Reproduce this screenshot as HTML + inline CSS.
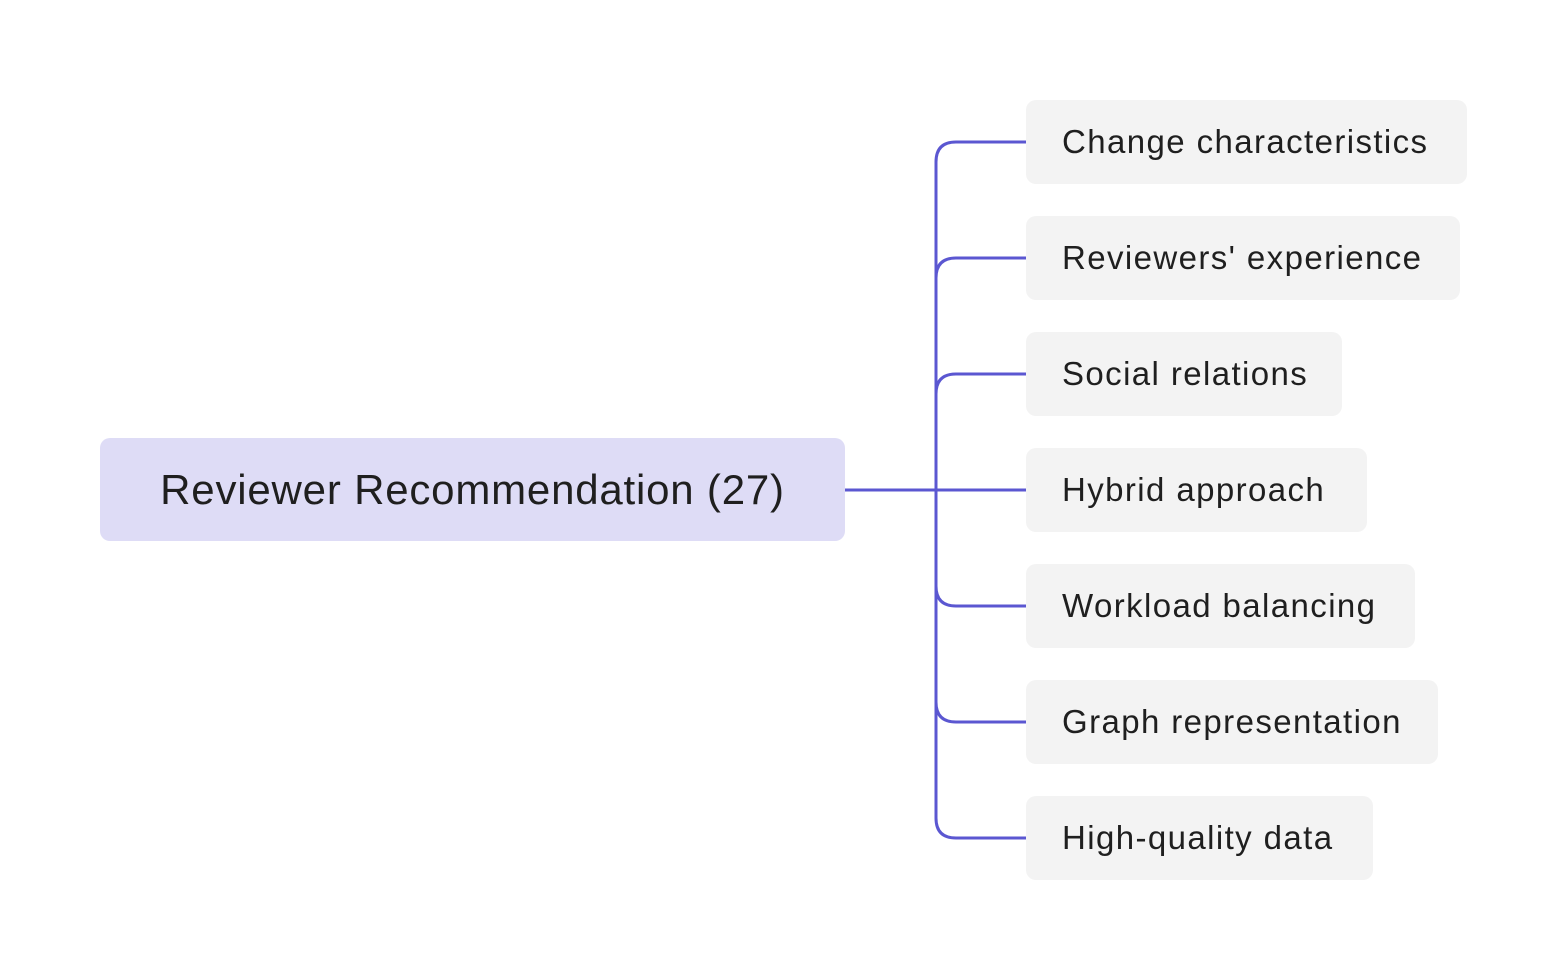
<!DOCTYPE html>
<html><head><style>
body{margin:0;width:1567px;height:980px;background:#fff;position:relative;font-family:"Liberation Sans",Helvetica,Arial,sans-serif;overflow:hidden}
.n{position:absolute;left:1026px;height:84px;background:#f3f3f3;border-radius:10px;color:#1f1f1f;font-size:33px;letter-spacing:1.4px;line-height:84px;padding-left:36px;box-sizing:border-box;white-space:nowrap}
.m{position:absolute;left:100px;top:438px;width:745px;height:103px;background:#dedcf6;border-radius:10px;color:#1f1f1f;font-size:42px;letter-spacing:0.8px;line-height:103px;text-align:center;white-space:nowrap}
svg{position:absolute;left:0;top:0}
</style></head><body>
<svg width="1567" height="980" fill="none" stroke="#5b57d1" stroke-width="3">
<path d="M845 490H1026"/>
<path d="M936 490V162Q936 142 956 142H1026"/>
<path d="M936 490V278Q936 258 956 258H1026"/>
<path d="M936 490V394Q936 374 956 374H1026"/>
<path d="M936 490V586Q936 606 956 606H1026"/>
<path d="M936 490V702Q936 722 956 722H1026"/>
<path d="M936 490V818Q936 838 956 838H1026"/>
</svg>
<div class="m">Reviewer Recommendation (27)</div>
<div class="n" style="top:100px;width:441px">Change characteristics</div>
<div class="n" style="top:216px;width:434px">Reviewers' experience</div>
<div class="n" style="top:332px;width:316px">Social relations</div>
<div class="n" style="top:448px;width:341px">Hybrid approach</div>
<div class="n" style="top:564px;width:389px">Workload balancing</div>
<div class="n" style="top:680px;width:412px">Graph representation</div>
<div class="n" style="top:796px;width:347px">High-quality data</div>
</body></html>
